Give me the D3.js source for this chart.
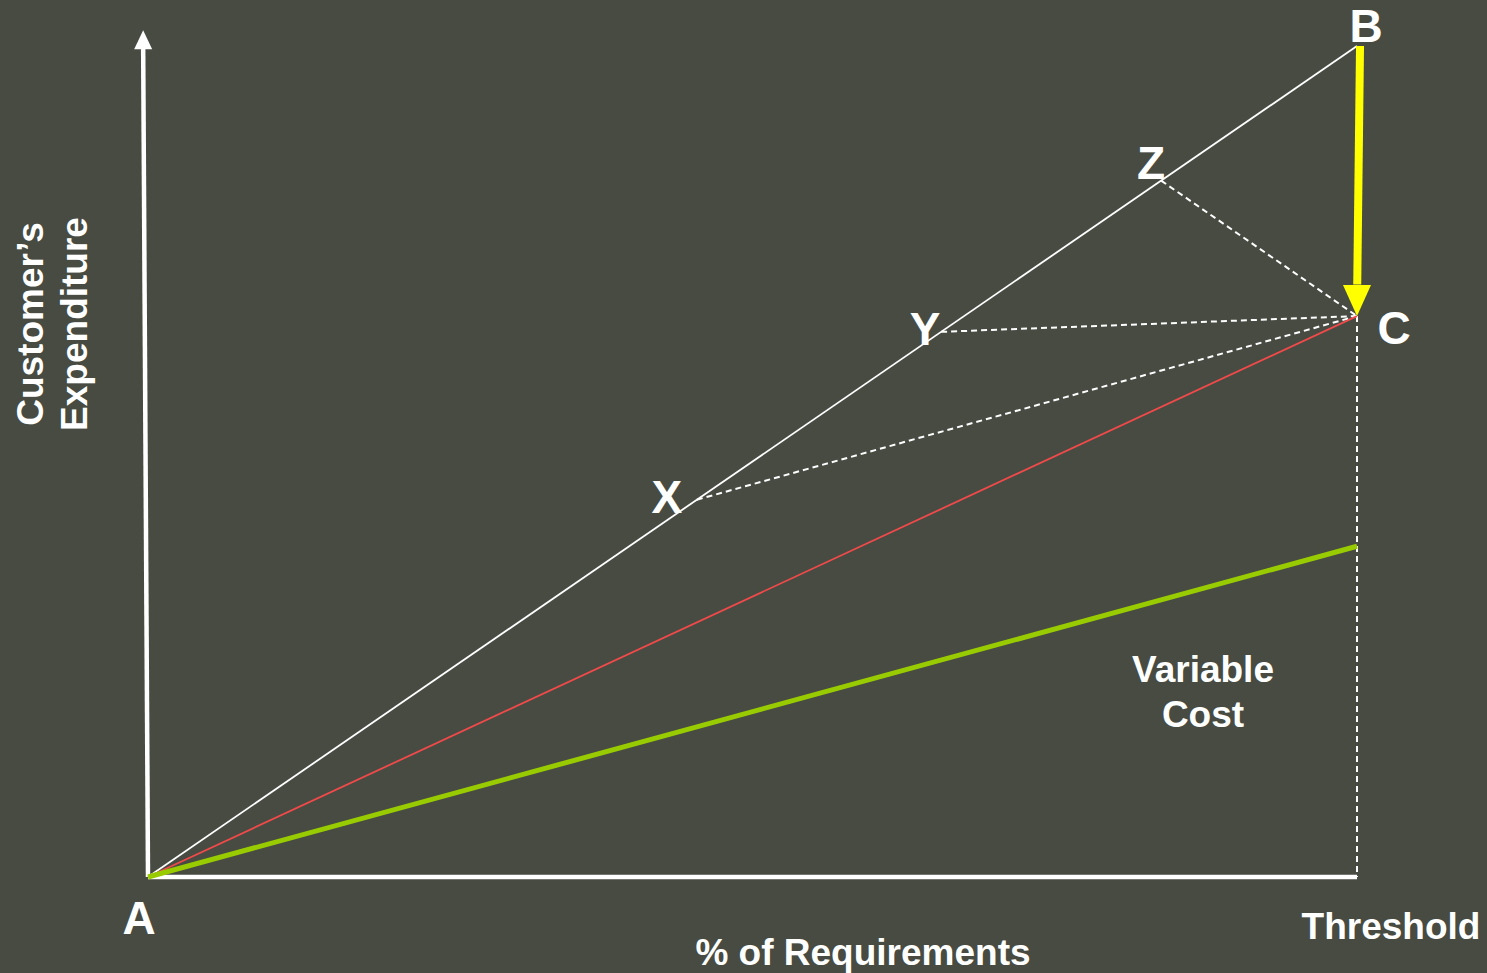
<!DOCTYPE html>
<html>
<head>
<meta charset="utf-8">
<script src="https://cdn.jsdelivr.net/npm/d3@7"></script>
<style>
  html, body { margin: 0; padding: 0; background: #474b42; }
  svg { display: block; }
  .label-text { font-family: "Liberation Sans", Arial, sans-serif; font-weight: bold; fill: #fff; }
</style>
</head>
<body>
<script>
var width = 1487, height = 973;

// points in chart units (x: % of requirements, y: expenditure)
var pointA = {name: "A", x: 0, y: 0};
var pointB = {name: "B", x: 100, y: 100};
var pointC = {name: "C", x: 100, y: 67.5};
var onLine = [
    {name: "X", x: 45.4, y: 45.4},
    {name: "Y", x: 65.6, y: 65.6},
    {name: "Z", x: 83.8, y: 83.8}
];
var varCostEnd = {x: 100, y: 39.8};
var axisTop = {x: -0.4, y: 101.9};
var arrowStart = {x: 100.25, y: 100};

var svg = d3.select("body").append("svg")
    .attr("width", width)
    .attr("height", height);

svg.append("rect")
    .attr("width", width)
    .attr("height", height)
    .attr("fill", "#474b42");

var x = d3.scaleLinear().domain([0, 100]).range([148, 1357]);
var y = d3.scaleLinear().domain([0, 100]).range([877, 46]);

var line = d3.line().x(d => x(d.x)).y(d => y(d.y));

// dashed guides from X, Y, Z to C, and C down to the axis
svg.selectAll(".guide")
    .data(onLine.map(p => [p, pointC]).concat([[pointC, {x: 100, y: 0}]]))
    .enter()
    .append("path")
    .attr("class", "guide")
    .attr("d", line)
    .attr("fill", "none")
    .attr("stroke", "#fff")
    .attr("stroke-width", 2)
    .attr("stroke-dasharray", "6,4");

// axes
svg.append("path")
    .attr("d", line([pointA, {x: 100, y: 0}]))
    .attr("stroke", "#fff")
    .attr("stroke-width", 4.5);

var axTopPx = [x(axisTop.x), y(axisTop.y)];
svg.append("path")
    .attr("d", line([pointA, {x: axisTop.x, y: axisTop.y - 2}]))
    .attr("stroke", "#fff")
    .attr("stroke-width", 4.5);
svg.append("polygon")
    .attr("points", [
        [axTopPx[0], axTopPx[1]],
        [axTopPx[0] - 9, axTopPx[1] + 19],
        [axTopPx[0] + 9, axTopPx[1] + 19]
    ].map(p => p.join(",")).join(" "))
    .attr("fill", "#fff");

// A -> B
svg.append("path")
    .attr("d", line([pointA, pointB]))
    .attr("stroke", "#fff")
    .attr("stroke-width", 1.8);

// A -> C
svg.append("path")
    .attr("d", line([pointA, pointC]))
    .attr("stroke", "#f04a4a")
    .attr("stroke-width", 1.8);

// variable cost
svg.append("path")
    .attr("d", line([pointA, varCostEnd]))
    .attr("stroke", "#99cc00")
    .attr("stroke-width", 5);

// yellow arrow B -> C
var cx = x(pointC.x), cy = y(pointC.y);
svg.append("path")
    .attr("d", line([arrowStart, {x: 100.02, y: pointC.y + 3.8}]))
    .attr("stroke", "#ffff00")
    .attr("stroke-width", 8);
svg.append("polygon")
    .attr("points", [
        [cx, cy],
        [cx - 14, cy - 31],
        [cx + 14, cy - 31]
    ].map(p => p.join(",")).join(" "))
    .attr("fill", "#ffff00");

// point labels
var letters = [
    {name: "A", x: pointA.x, y: pointA.y, dx: -9, dy: 57},
    {name: "B", x: pointB.x, y: pointB.y, dx: 9, dy: -4},
    {name: "C", x: pointC.x, y: pointC.y, dx: 37, dy: 28},
    {name: "X", x: onLine[0].x, y: onLine[0].y, dx: -30, dy: 13},
    {name: "Y", x: onLine[1].x, y: onLine[1].y, dx: -16, dy: 13},
    {name: "Z", x: onLine[2].x, y: onLine[2].y, dx: -10, dy: -2}
];
svg.selectAll(".pt-label")
    .data(letters)
    .enter()
    .append("text")
    .attr("class", "label-text pt-label")
    .attr("x", d => x(d.x) + d.dx)
    .attr("y", d => y(d.y) + d.dy)
    .attr("text-anchor", "middle")
    .style("font-size", "46px")
    .text(d => d.name);

// text labels
svg.append("text")
    .attr("class", "label-text")
    .attr("x", 1203).attr("y", 682)
    .attr("text-anchor", "middle")
    .style("font-size", "37px")
    .text("Variable");
svg.append("text")
    .attr("class", "label-text")
    .attr("x", 1203).attr("y", 727)
    .attr("text-anchor", "middle")
    .style("font-size", "37px")
    .text("Cost");

svg.append("text")
    .attr("class", "label-text")
    .attr("x", 1391).attr("y", 939)
    .attr("text-anchor", "middle")
    .style("font-size", "37px")
    .text("Threshold");

svg.append("text")
    .attr("class", "label-text")
    .attr("x", 863).attr("y", 965)
    .attr("text-anchor", "middle")
    .style("font-size", "37px")
    .text("% of Requirements");

var ytitle = svg.append("text")
    .attr("class", "label-text")
    .attr("transform", "translate(43,324) rotate(-90)")
    .attr("text-anchor", "middle")
    .style("font-size", "37px");
ytitle.append("tspan").attr("x", 0).attr("dy", 0).text("Customer\u2019s");
ytitle.append("tspan").attr("x", 0).attr("dy", 44).text("Expenditure");
</script>
</body>
</html>
